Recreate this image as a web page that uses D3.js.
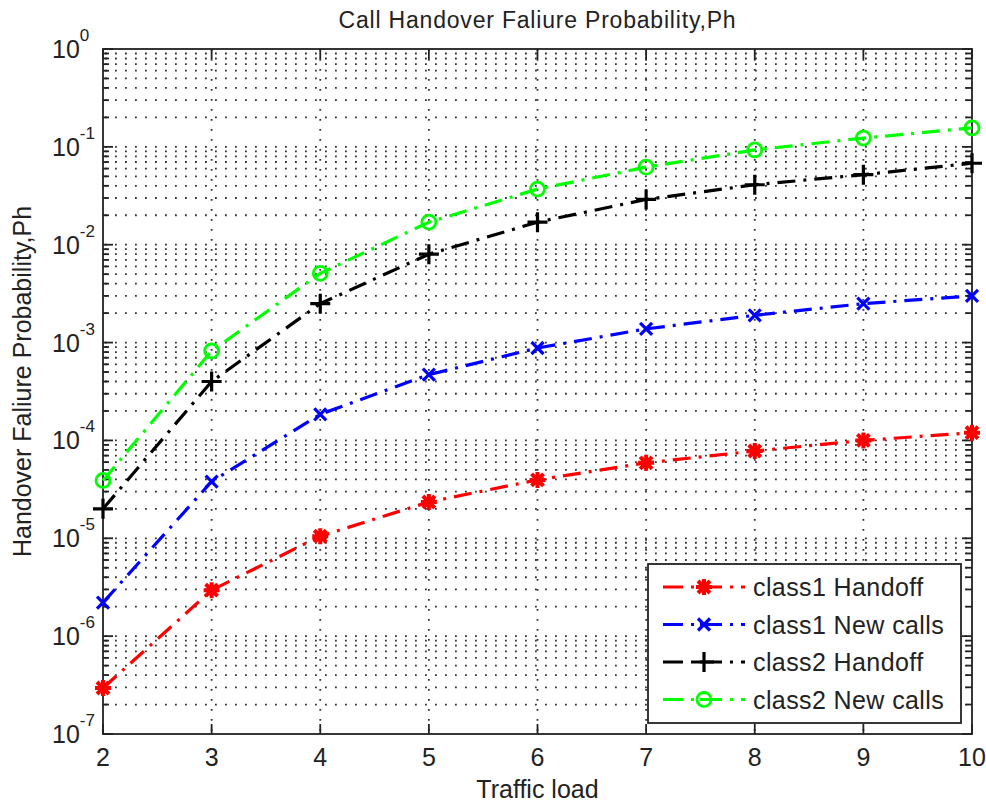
<!DOCTYPE html>
<html><head><meta charset="utf-8">
<script src="https://cdn.jsdelivr.net/npm/d3@7"></script>
<style>body{margin:0;background:#fff;} text{font-family:"Liberation Sans",Arial,sans-serif;fill:#222;}</style>
</head><body>
<svg id="chart" width="986" height="805"></svg>
<script>
const loads = [2,3,4,5,6,7,8,9,10];
const class1Handoff  = [2.95e-7, 2.95e-6, 1.05e-5, 2.35e-5, 3.95e-5, 5.9e-5, 7.8e-5, 1.0e-4, 1.2e-4];
const class1NewCalls = [2.2e-6, 3.8e-5, 1.85e-4, 4.7e-4, 8.8e-4, 1.38e-3, 1.9e-3, 2.5e-3, 3.0e-3];
const class2Handoff  = [2.0e-5, 4.0e-4, 2.5e-3, 8.0e-3, 1.7e-2, 2.9e-2, 4.1e-2, 5.2e-2, 6.8e-2];
const class2NewCalls = [3.9e-5, 8.2e-4, 5.1e-3, 1.7e-2, 3.7e-2, 6.2e-2, 9.3e-2, 1.23e-1, 1.56e-1];
const seriesNames = ["class1 Handoff","class1 New calls","class2 Handoff","class2 New calls"];
const seriesColors = ["#ff0000","#0000ff","#000000","#00ff00"];
const seriesMarkers = ["star","x","plus","circle"];
const xTicks = [2,3,4,5,6,7,8,9,10];
const yExponents = [0,-1,-2,-3,-4,-5,-6,-7];

const seriesData = [class1Handoff, class1NewCalls, class2Handoff, class2NewCalls];
const L=103, R=972, T=49, B=734;
const svg = d3.select("#chart");
const x = d3.scaleLinear().domain([2,10]).range([L,R]);
const y = d3.scaleLog().domain([1e-7,1]).range([B,T]);

// grid
const minorVals = [];
for (let e=-7; e<0; e++) for (let m=1; m<=9; m++) minorVals.push(m*Math.pow(10,e));
minorVals.push(1);
const grid = svg.append("g");
grid.selectAll("line.h").data(minorVals.filter(v=>v>1e-7 && v<1)).enter().append("line")
  .attr("x1",L+2).attr("x2",R).attr("y1",d=>y(d)).attr("y2",d=>y(d))
  .attr("stroke","#333").attr("stroke-width",1.8).attr("stroke-dasharray","1.8,8.2");
grid.selectAll("line.v").data(xTicks.slice(1,-1)).enter().append("line")
  .attr("x1",d=>x(d)).attr("x2",d=>x(d)).attr("y1",T).attr("y2",B)
  .attr("stroke","#333").attr("stroke-width",1.8).attr("stroke-dasharray","1.8,8.2");

// axes box
const ax = svg.append("g");
ax.append("rect").attr("x",L).attr("y",T).attr("width",R-L).attr("height",B-T)
  .attr("fill","none").attr("stroke","#222").attr("stroke-width",1.8);
// y ticks
minorVals.forEach(v=>{
  const major = Math.abs(Math.log10(v)-Math.round(Math.log10(v)))<1e-9;
  const len = major?10:6;
  const yy = y(v);
  ax.append("line").attr("x1",L).attr("x2",L+len).attr("y1",yy).attr("y2",yy).attr("stroke","#222").attr("stroke-width",1.8);
  ax.append("line").attr("x1",R-len).attr("x2",R).attr("y1",yy).attr("y2",yy).attr("stroke","#222").attr("stroke-width",1.8);
});
xTicks.forEach(t=>{
  ax.append("line").attr("x1",x(t)).attr("x2",x(t)).attr("y1",B).attr("y2",B-10).attr("stroke","#222").attr("stroke-width",1.8);
  ax.append("line").attr("x1",x(t)).attr("x2",x(t)).attr("y1",T).attr("y2",T+10).attr("stroke","#222").attr("stroke-width",1.8);
});
// x tick labels
svg.selectAll("text.xt").data(xTicks).enter().append("text")
  .attr("x",d=>x(d)).attr("y",766).attr("text-anchor","middle").attr("font-size",25).text(d=>d);
// y tick labels
yExponents.forEach(e=>{
  const t = svg.append("text").attr("x",52).attr("y",y(Math.pow(10,e))+9).attr("font-size",25);
  t.append("tspan").text("10");
  t.append("tspan").attr("dy",-17).attr("font-size",17).text(e);
});
// titles
svg.append("text").attr("x",(L+R)/2).attr("y",28).attr("text-anchor","middle").attr("font-size",23)
  .attr("letter-spacing",0.8).text("Call Handover Faliure Probability,Ph");
svg.append("text").attr("x",(L+R)/2).attr("y",798).attr("text-anchor","middle").attr("font-size",25)
  .text("Traffic load");
svg.append("text").attr("transform",`translate(31,${(T+B)/2-10}) rotate(-90)`).attr("text-anchor","middle").attr("font-size",25)
  .text("Handover Faliure Probability,Ph");

// markers
function drawMarker(g, type, cx, cy, color){
  if(type==="circle"){
    g.append("circle").attr("cx",cx).attr("cy",cy).attr("r",7).attr("fill","none").attr("stroke",color).attr("stroke-width",2.8);
  } else if(type==="plus"){
    g.append("path").attr("d",`M${cx-10},${cy}H${cx+10}M${cx},${cy-10}V${cy+10}`).attr("stroke",color).attr("stroke-width",3.2);
  } else if(type==="x"){
    g.append("path").attr("d",`M${cx-6},${cy-6}L${cx+6},${cy+6}M${cx-6},${cy+6}L${cx+6},${cy-6}`).attr("stroke",color).attr("stroke-width",3.2);
  } else {
    g.append("path").attr("d",`M${cx-8},${cy}H${cx+8}M${cx},${cy-8}V${cy+8}M${cx-6},${cy-6}L${cx+6},${cy+6}M${cx-6},${cy+6}L${cx+6},${cy-6}`).attr("stroke",color).attr("stroke-width",4);
  }
}

const line = d3.line().x((d,i)=>x(loads[i])).y(d=>y(d));
const plot = svg.append("g");
seriesData.forEach((vals,k)=>{
  plot.append("path").attr("d",line(vals)).attr("fill","none").attr("stroke",seriesColors[k])
    .attr("stroke-width",3.2).attr("stroke-dasharray","18,8,3,8");
  vals.forEach((v,i)=>drawMarker(plot, seriesMarkers[k], x(loads[i]), y(v), seriesColors[k]));
});

// legend
const lg = svg.append("g");
lg.append("rect").attr("x",648).attr("y",564).attr("width",313).attr("height",159)
  .attr("fill","#fff").attr("stroke","#222").attr("stroke-width",1.8);
seriesNames.forEach((n,k)=>{
  const cy = 587 + k*37.5;
  lg.append("path").attr("d",`M663,${cy}H745`).attr("stroke",seriesColors[k]).attr("stroke-width",3.2)
    .attr("stroke-dasharray","20,8,3,6,22,8,3,8");
  drawMarker(lg, seriesMarkers[k], 704, cy, seriesColors[k]);
  lg.append("text").attr("x",753).attr("y",cy+9).attr("font-size",25).attr("letter-spacing",0.4).text(n);
});
</script>
</body></html>
